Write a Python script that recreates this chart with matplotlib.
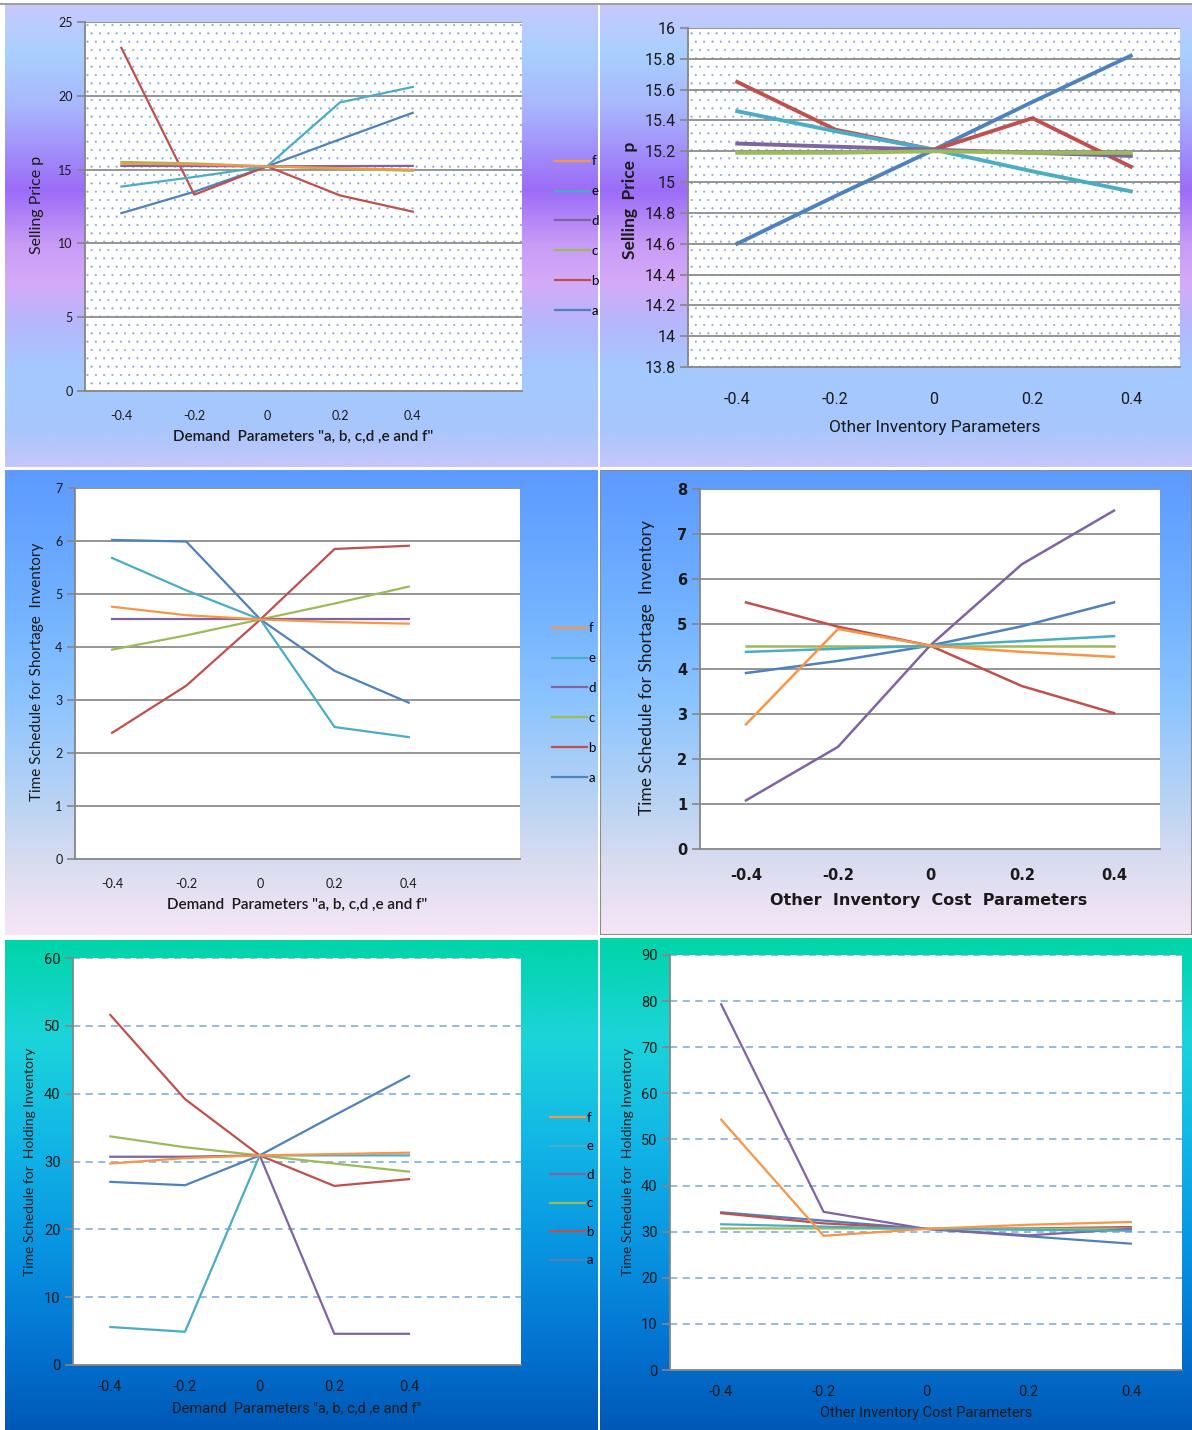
import matplotlib.pyplot as plt
import numpy as np
from matplotlib.colors import LinearSegmentedColormap
from matplotlib.patches import Rectangle

W, H = 1192, 1430
plt.rcParams['hatch.linewidth'] = 0.3

x = [-0.4, -0.2, 0, 0.2, 0.4]
xlabels = ['-0.4', '-0.2', '0', '0.2', '0.4']
series = ['a', 'b', 'c', 'd', 'e', 'f']
colors = {'a': '#4f81bd', 'b': '#c0504d', 'c': '#9bbb59',
          'd': '#8064a2', 'e': '#4bacc6', 'f': '#f79646'}

# selling price p, demand parameters
price_a = [12.05, 13.5, 15.22, 17.05, 18.85]
price_b = [23.25, 13.3, 15.22, 13.25, 12.15]
price_c = [15.52, 15.42, 15.22, 15.05, 14.92]
price_d = [15.25, 15.24, 15.22, 15.24, 15.25]
price_e = [13.85, 14.5, 15.22, 19.55, 20.6]
price_f = [15.4, 15.35, 15.22, 15.1, 15.0]

# selling price p, other inventory parameters
oprice_a = [14.6, 14.91, 15.21, 15.52, 15.82]
oprice_b = [15.65, 15.34, 15.21, 15.415, 15.1]
oprice_c = [15.19, 15.19, 15.2, 15.19, 15.19]
oprice_d = [15.25, 15.23, 15.21, 15.19, 15.17]
oprice_e = [15.46, 15.33, 15.21, 15.07, 14.94]

# shortage time, demand parameters
short_a = [6.02, 5.99, 4.52, 3.55, 2.95]
short_b = [2.38, 3.27, 4.52, 5.85, 5.91]
short_c = [3.95, 4.22, 4.52, 4.82, 5.14]
short_d = [4.52, 4.52, 4.52, 4.52, 4.52]
short_e = [5.68, 5.07, 4.52, 2.49, 2.30]
short_f = [4.76, 4.60, 4.52, 4.47, 4.44]

# shortage time, other inventory cost parameters
oshort_a = [3.91, 4.18, 4.52, 4.95, 5.48]
oshort_b = [5.48, 4.94, 4.52, 3.62, 3.02]
oshort_c = [4.52, 4.52, 4.52, 4.52, 4.52]
oshort_d = [1.08, 2.27, 4.52, 6.33, 7.52]
oshort_e = [4.38, 4.45, 4.52, 4.62, 4.73]
oshort_f = [2.77, 4.89, 4.52, 4.38, 4.27]

# holding time, demand parameters
hold_a = [27.0, 26.5, 30.9, 36.8, 42.6]
hold_b = [51.6, 39.2, 30.9, 26.4, 27.4]
hold_c = [33.7, 32.1, 30.9, 29.7, 28.5]
hold_d = [30.7, 30.7, 30.9, 4.6, 4.6]
hold_e = [5.6, 4.9, 30.9, 30.9, 30.9]
hold_f = [29.7, 30.5, 30.9, 31.1, 31.3]

# holding time, other inventory cost parameters
ohold_a = [34.2, 32.4, 30.6, 29.0, 27.4]
ohold_b = [34.0, 31.8, 30.6, 30.7, 31.0]
ohold_c = [30.7, 30.7, 30.6, 30.6, 30.7]
ohold_d = [79.3, 34.3, 30.6, 29.2, 30.6]
ohold_e = [31.6, 31.1, 30.6, 30.4, 30.2]
ohold_f = [54.3, 29.1, 30.6, 31.5, 32.1]

NARROW = ['Roboto', 'DejaVu Sans']
SANS = ['Lato', 'DejaVu Sans']

top_stops = [(0.0, '#c8c8fc'), (0.1, '#a9d0ff'), (0.22, '#a8b6fc'),
             (0.40, '#9c6cf8'), (0.52, '#c89cf6'), (0.6, '#d4aaf8'),
             (0.7, '#b4b8fc'), (0.8, '#a4caff'), (0.92, '#a8c6fc'), (1.0, '#c6c6fa')]
mid_stops = [(0.0, '#5c9aff'), (0.3, '#72b2ff'), (0.5, '#8cc4ff'),
             (0.7, '#b6d2f4'), (0.85, '#dadcf0'), (1.0, '#f6e6f6')]
bot_stops = [(0.0, '#00d4a8'), (0.2, '#1cd4da'), (0.4, '#12b8e6'),
             (0.62, '#0896e2'), (0.82, '#0474d2'), (1.0, '#0058b6')]

fig = plt.figure(figsize=(W / 100, H / 100), dpi=100, facecolor='white')


def px_axes(x0, y0, x1, y1, z=1):
    return fig.add_axes([x0 / W, 1 - y1 / H, (x1 - x0) / W, (y1 - y0) / H], zorder=z)


def background(x0, y0, x1, y1, stops):
    bg = px_axes(x0, y0, x1, y1, z=0)
    cmap = LinearSegmentedColormap.from_list('bg', stops)
    bg.imshow(np.linspace(0, 1, 256).reshape(-1, 1), cmap=cmap, aspect='auto',
              extent=(0, 1, 1, 0))
    bg.set_axis_off()
    return bg


def chart(rect, ymax, ystep, ylabels_fmt, xmax, ymin=0, dotted=False, dashed=False,
          tick_font=SANS, tick_size=9, tick_weight='normal', xpad=10):
    ax = px_axes(*rect, z=2)
    ax.set_facecolor('white')
    if dotted:
        ax.add_patch(Rectangle((0, 0), 1, 1, transform=ax.transAxes, facecolor='white',
                               edgecolor='#7fa8e8', lw=0, hatch='..', zorder=0))
    ax.set_xlim(-0.5, xmax)
    ax.set_ylim(ymin, ymax)
    yt = np.arange(ymin, ymax + ystep / 2, ystep)
    ax.set_yticks(yt)
    ax.set_yticklabels([ylabels_fmt(v) for v in yt])
    ax.set_xticks(x)
    ax.set_xticklabels(xlabels)
    for s in ['top', 'right']:
        ax.spines[s].set_visible(False)
    for s in ['left', 'bottom']:
        ax.spines[s].set_color('#868686')
        ax.spines[s].set_linewidth(1.3)
    ax.tick_params(axis='y', length=6, width=1.2, color='#868686', pad=3)
    ax.tick_params(axis='x', length=0, pad=xpad)
    for lab in ax.get_xticklabels() + ax.get_yticklabels():
        lab.set_family(tick_font)
        lab.set_fontsize(tick_size)
        lab.set_fontweight(tick_weight)
        lab.set_color('#1a1a1a')
    if dashed:
        for v in yt[1:]:
            ax.axhline(v, color='#8db4e2', lw=1.3, dashes=(4, 3), zorder=1)
    else:
        for v in yt[1:]:
            ax.axhline(v, color='#8c8c8c', lw=1.3, zorder=1)
    return ax


def legend(ax, lines, xpx, ypx, spacing=1.35):
    order = lines[::-1]
    fig.legend(order, [l.get_label() for l in order], loc='center left',
               bbox_to_anchor=(xpx / W, 1 - ypx / H), frameon=False,
               handlelength=2.7, handletextpad=0.1, labelspacing=spacing,
               borderpad=0, prop={'family': SANS, 'size': 9.5})


def fmt_int(v):
    return '%d' % round(v)


def fmt_g(v):
    return '%g' % round(v, 1)


# panel backgrounds
background(5, 5, 598, 467, top_stops)
background(600, 5, 1192, 467, top_stops)
background(5, 470, 598, 935, mid_stops)
b4 = background(600, 470, 1192, 935, mid_stops)
b4.add_patch(Rectangle((0, 0), 1, 1, transform=b4.transAxes, fill=False,
                       edgecolor='#8c8c8c', lw=1.5))
background(5, 940, 598, 1430, bot_stops)
background(600, 938, 1192, 1430, bot_stops)
fig.add_artist(plt.Line2D([0, 1], [1 - 4 / H, 1 - 4 / H], color='#a0a0a0', lw=1.5))

# selling price vs demand parameters
ax1 = chart((85, 22, 522, 391), 25, 5, fmt_int, 0.7, dotted=True, xpad=14)
lines1 = []
for name, vals in zip(series, [price_a, price_b, price_c, price_d, price_e, price_f]):
    ln, = ax1.plot(x, vals, color=colors[name], lw=1.6, label=name)
    lines1.append(ln)
legend(ax1, lines1, 548, 236)
fig.text(37 / W, 1 - 205 / H, 'Selling Price p', rotation=90, ha='center', va='center',
         family=SANS, fontsize=11.5, color='#1a1a1a')
fig.text(303 / W, 1 - 437 / H, 'Demand  Parameters "a, b, c,d ,e and f"', ha='center',
         va='center', family=SANS, fontsize=11, fontweight='semibold', color='#1a1a1a')

# selling price vs other inventory parameters
ax2 = chart((688, 28, 1180, 367), 16, 0.2, fmt_g, 0.5, ymin=13.8, dotted=True,
            tick_font=NARROW, tick_size=11.5, xpad=18)
for name, vals in zip(['a', 'b', 'e', 'd', 'c'], [oprice_a, oprice_b, oprice_e, oprice_d, oprice_c]):
    ax2.plot(x, vals, color=colors[name], lw=2.8)
fig.text(630 / W, 1 - 200 / H, 'Selling  Price  p', rotation=90, ha='center', va='center',
         family=SANS, fontsize=12.5, fontweight='bold', color='#1a1a1a')
fig.text(935 / W, 1 - 428 / H, 'Other Inventory Parameters', ha='center', va='center',
         family=NARROW, fontsize=12.5, color='#1a1a1a')

# shortage time vs demand parameters
ax3 = chart((75, 488, 520, 859), 7, 1, fmt_int, 0.7, xpad=14)
lines3 = []
for name, vals in zip(series, [short_a, short_b, short_c, short_d, short_e, short_f]):
    ln, = ax3.plot(x, vals, color=colors[name], lw=1.6, label=name)
    lines3.append(ln)
legend(ax3, lines3, 545, 703)
fig.text(37 / W, 1 - 672 / H, 'Time Schedule for Shortage  Inventory', rotation=90,
         ha='center', va='center', family=SANS, fontsize=11, color='#1a1a1a')
fig.text(297 / W, 1 - 905 / H, 'Demand  Parameters "a, b, c,d ,e and f"', ha='center',
         va='center', family=SANS, fontsize=11, fontweight='semibold', color='#1a1a1a')

# shortage time vs other inventory cost parameters
ax4 = chart((700, 489, 1160, 849), 8, 1, fmt_int, 0.5, tick_font=['DejaVu Sans'],
            tick_size=10.5, tick_weight='bold', xpad=14)
for name, vals in zip(series, [oshort_a, oshort_b, oshort_c, oshort_d, oshort_e, oshort_f]):
    ax4.plot(x, vals, color=colors[name], lw=1.8)
fig.text(647 / W, 1 - 668 / H, 'Time Schedule for Shortage  Inventory', rotation=90,
         ha='center', va='center', family=SANS, fontsize=12.5, color='#1a1a1a')
fig.text(929 / W, 1 - 900 / H, 'Other  Inventory  Cost  Parameters', ha='center',
         va='center', family='DejaVu Sans', fontsize=11.5, fontweight='bold', color='#1a1a1a')

# holding time vs demand parameters
ax5 = chart((73, 958, 521, 1365), 60, 10, fmt_int, 0.7, dashed=True, tick_font=NARROW,
            tick_size=10.5, xpad=11)
lines5 = []
for name, vals in zip(series, [hold_a, hold_b, hold_c, hold_d, hold_e, hold_f]):
    ln, = ax5.plot(x, vals, color=colors[name], lw=1.6, label=name)
    lines5.append(ln)
legend(ax5, lines5, 543, 1189, spacing=1.25)
fig.text(30 / W, 1 - 1162 / H, 'Time Schedule for  Holding Inventory', rotation=90,
         ha='center', va='center', family=SANS, fontsize=10, color='#1a1a1a')
fig.text(297 / W, 1 - 1408 / H, 'Demand  Parameters "a, b, c,d ,e and f"', ha='center',
         va='center', family=NARROW, fontsize=10.5, color='#1a1a1a')

# holding time vs other inventory cost parameters
ax6 = chart((670, 955, 1182, 1370), 90, 10, fmt_int, 0.5, dashed=True, tick_font=NARROW,
            tick_size=10.5, xpad=11)
for name, vals in zip(series, [ohold_a, ohold_b, ohold_c, ohold_d, ohold_e, ohold_f]):
    ax6.plot(x, vals, color=colors[name], lw=1.6)
fig.text(628 / W, 1 - 1162 / H, 'Time Schedule for  Holding Inventory', rotation=90,
         ha='center', va='center', family=SANS, fontsize=10, color='#1a1a1a')
fig.text(926 / W, 1 - 1413 / H, 'Other Inventory Cost Parameters', ha='center',
         va='center', family=NARROW, fontsize=10.5, color='#1a1a1a')

fig.savefig('out.png', dpi=100)
